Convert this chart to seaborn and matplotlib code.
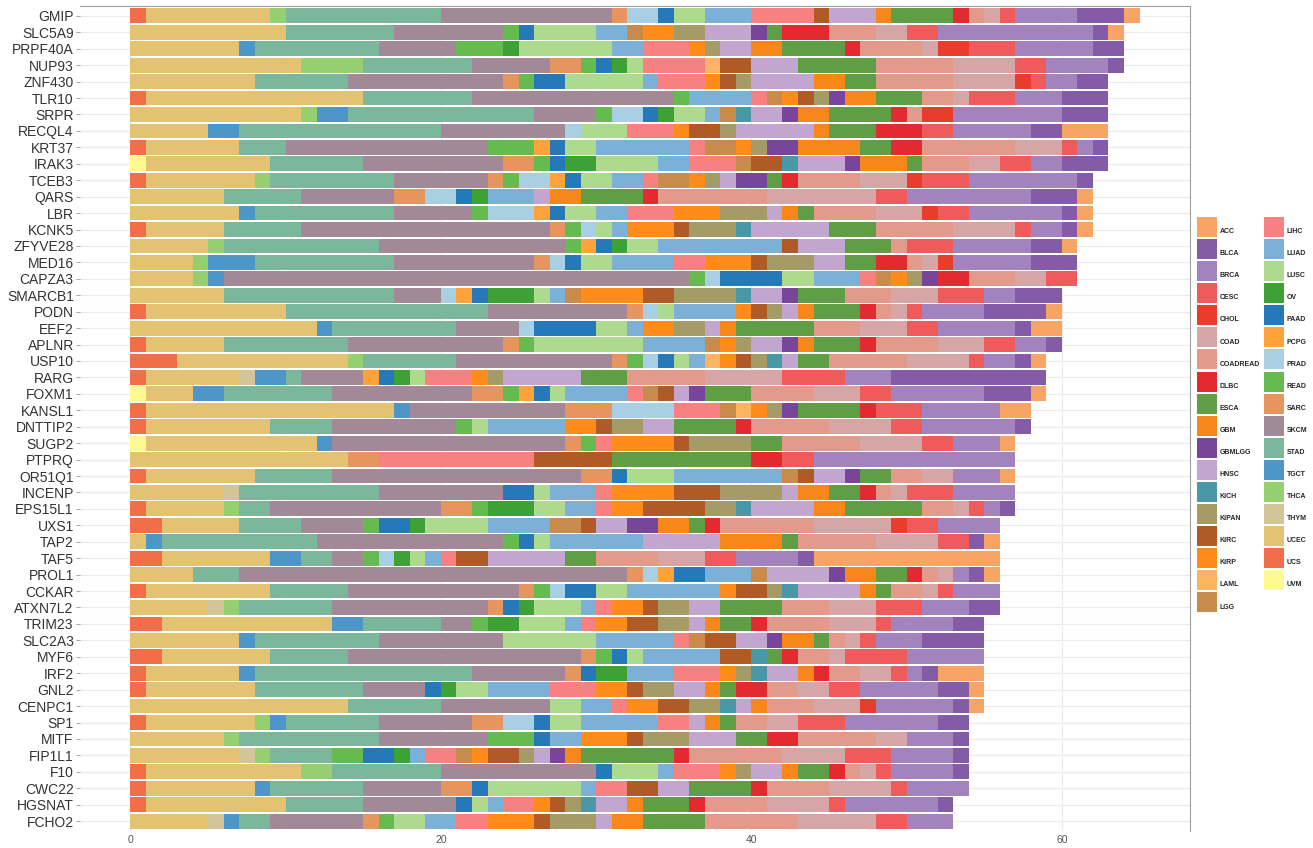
import matplotlib

matplotlib.use("Agg")

import matplotlib.pyplot as plt
import pandas as pd
import seaborn as sns
from matplotlib.lines import Line2D

GENES = [
    "GMIP", "SLC5A9", "PRPF40A", "NUP93", "ZNF430", "TLR10", "SRPR", "RECQL4",
    "KRT37", "IRAK3", "TCEB3", "QARS", "LBR", "KCNK5", "ZFYVE28", "MED16",
    "CAPZA3", "SMARCB1", "PODN", "EEF2", "APLNR", "USP10", "RARG", "FOXM1",
    "KANSL1", "DNTTIP2", "SUGP2", "PTPRQ", "OR51Q1", "INCENP", "EPS15L1", "UXS1",
    "TAP2", "TAF5", "PROL1", "CCKAR", "ATXN7L2", "TRIM23", "SLC2A3", "MYF6",
    "IRF2", "GNL2", "CENPC1", "SP1", "MITF", "FIP1L1", "F10", "CWC22",
    "HGSNAT", "FCHO2",
]

CANCER_TYPES = [
    "ACC", "BLCA", "BRCA", "CESC", "CHOL", "COAD", "COADREAD", "DLBC", "ESCA",
    "GBM", "GBMLGG", "HNSC", "KICH", "KIPAN", "KIRC", "KIRP", "LAML", "LGG",
    "LIHC", "LUAD", "LUSC", "OV", "PAAD", "PCPG", "PRAD", "READ", "SARC",
    "SKCM", "STAD", "TGCT", "THCA", "THYM", "UCEC", "UCS", "UVM",
]

CANCER_COLORS = [
    "#F7A464", "#845BA7", "#A383BE", "#EF5A5A", "#E83C2C", "#D6A5A5", "#E39A8A",
    "#E32A30", "#5F9E45", "#F7861B", "#774599", "#C2A6CF", "#4A97A8", "#A49B67",
    "#B05A28", "#FF8C1A", "#FDB462", "#C98B4C", "#F78181", "#7BB1D6", "#ADDA8D",
    "#3EA135", "#2679B8", "#FFA23A", "#A8CFE4", "#65BA50", "#E6955E", "#A38898",
    "#7BB79B", "#4E96C8", "#95CF70", "#D5C497", "#E3C371", "#F26E4A", "#FFF992",
]

# counts per gene, listed left to right as stacked in the bar
GENE_COUNTS = [
    {"UCS": 1, "UCEC": 8, "THCA": 1, "STAD": 10, "SKCM": 11, "SARC": 1, "PRAD": 2, "PAAD": 1, "LUSC": 2, "LUAD": 3, "LIHC": 4, "KIRC": 1, "HNSC": 3, "GBM": 1, "ESCA": 4, "DLBC": 1, "COADREAD": 1, "COAD": 1, "CESC": 1, "BRCA": 4, "BLCA": 3, "ACC": 1},
    {"UCEC": 10, "STAD": 7, "SKCM": 7, "READ": 1, "PAAD": 1, "LUSC": 4, "LUAD": 2, "LGG": 1, "KIRP": 2, "KIPAN": 2, "HNSC": 3, "GBMLGG": 1, "ESCA": 1, "DLBC": 3, "COADREAD": 3, "COAD": 2, "CESC": 2, "BRCA": 10, "BLCA": 1, "ACC": 1},
    {"UCEC": 7, "TGCT": 1, "STAD": 8, "SKCM": 5, "READ": 3, "OV": 1, "LUSC": 6, "LUAD": 2, "LIHC": 3, "KIRP": 1, "KIPAN": 1, "HNSC": 2, "GBM": 2, "ESCA": 4, "DLBC": 1, "COADREAD": 4, "COAD": 1, "CHOL": 2, "CESC": 3, "BRCA": 5, "BLCA": 2},
    {"UCEC": 11, "THCA": 4, "STAD": 7, "SKCM": 5, "SARC": 2, "READ": 1, "PAAD": 1, "OV": 1, "LUSC": 1, "LIHC": 4, "LAML": 1, "KIRC": 2, "HNSC": 3, "ESCA": 5, "COADREAD": 5, "COAD": 4, "CESC": 2, "BRCA": 4, "BLCA": 1},
    {"UCEC": 8, "STAD": 6, "SKCM": 10, "SARC": 1, "READ": 1, "PAAD": 2, "LUSC": 5, "LUAD": 1, "LIHC": 3, "KIRP": 1, "KIRC": 1, "KIPAN": 1, "HNSC": 4, "GBM": 2, "ESCA": 2, "COADREAD": 5, "COAD": 4, "CHOL": 1, "CESC": 1, "BRCA": 2, "BLCA": 2},
    {"UCS": 1, "UCEC": 14, "STAD": 7, "SKCM": 13, "READ": 1, "LUAD": 4, "LIHC": 1, "LGG": 1, "KIRP": 1, "KIRC": 1, "KIPAN": 1, "GBMLGG": 1, "GBM": 2, "ESCA": 3, "COADREAD": 2, "COAD": 1, "CESC": 3, "BRCA": 3, "BLCA": 3},
    {"UCEC": 11, "THCA": 1, "TGCT": 2, "STAD": 12, "SKCM": 4, "READ": 1, "PRAD": 2, "PAAD": 1, "OV": 1, "LUSC": 2, "LUAD": 1, "LGG": 1, "KICH": 1, "HNSC": 2, "GBMLGG": 1, "GBM": 2, "ESCA": 4, "DLBC": 1, "COADREAD": 1, "CHOL": 2, "BRCA": 7, "BLCA": 3},
    {"UCEC": 5, "TGCT": 2, "STAD": 13, "SKCM": 8, "PRAD": 1, "LUSC": 3, "LIHC": 3, "KIRP": 1, "KIRC": 2, "KIPAN": 1, "HNSC": 5, "GBM": 1, "ESCA": 3, "DLBC": 3, "CESC": 2, "BRCA": 5, "BLCA": 2, "ACC": 3},
    {"UCS": 1, "UCEC": 6, "STAD": 3, "SKCM": 13, "READ": 3, "PCPG": 1, "PAAD": 1, "LUSC": 2, "LUAD": 6, "LIHC": 1, "LGG": 2, "KIRP": 1, "KIPAN": 1, "GBMLGG": 2, "GBM": 4, "ESCA": 2, "DLBC": 2, "COADREAD": 6, "COAD": 3, "CESC": 1, "BRCA": 1, "BLCA": 1},
    {"UVM": 1, "UCEC": 8, "STAD": 6, "SKCM": 9, "SARC": 2, "READ": 1, "PAAD": 1, "OV": 2, "LUSC": 4, "LUAD": 2, "LIHC": 3, "LGG": 1, "KIRC": 2, "KICH": 1, "HNSC": 3, "GBMLGG": 1, "GBM": 3, "ESCA": 1, "COADREAD": 3, "COAD": 2, "CESC": 2, "BRCA": 2, "BLCA": 3},
    {"UCS": 1, "UCEC": 7, "THCA": 1, "STAD": 8, "SKCM": 6, "SARC": 1, "READ": 1, "PRAD": 2, "PCPG": 1, "PAAD": 1, "LUSC": 2, "LUAD": 2, "LIHC": 1, "LGG": 2, "KIRP": 1, "KIPAN": 1, "HNSC": 1, "GBMLGG": 2, "ESCA": 1, "DLBC": 1, "COADREAD": 4, "COAD": 3, "CHOL": 1, "CESC": 3, "BRCA": 7, "BLCA": 1},
    {"UCEC": 6, "STAD": 5, "SKCM": 6, "SARC": 2, "PRAD": 2, "PAAD": 1, "OV": 1, "LUAD": 3, "HNSC": 1, "GBM": 2, "ESCA": 4, "DLBC": 1, "COADREAD": 7, "COAD": 7, "CESC": 2, "BRCA": 8, "BLCA": 3, "ACC": 1},
    {"UCEC": 7, "TGCT": 1, "STAD": 9, "SKCM": 5, "READ": 1, "PRAD": 3, "PCPG": 1, "PAAD": 1, "LUSC": 2, "LUAD": 2, "LIHC": 3, "KIRP": 3, "KIPAN": 3, "HNSC": 1, "GBM": 1, "ESCA": 1, "COADREAD": 4, "COAD": 3, "CHOL": 1, "CESC": 2, "BRCA": 6, "BLCA": 1, "ACC": 1},
    {"UCS": 1, "UCEC": 5, "STAD": 5, "SKCM": 16, "SARC": 1, "READ": 1, "PRAD": 1, "LUSC": 1, "LUAD": 1, "KIRP": 3, "KIRC": 1, "KIPAN": 3, "KICH": 1, "HNSC": 5, "ESCA": 3, "COADREAD": 5, "COAD": 4, "CESC": 1, "BRCA": 2, "BLCA": 1, "ACC": 1},
    {"UCEC": 5, "THCA": 1, "STAD": 10, "SKCM": 12, "READ": 1, "PCPG": 1, "PAAD": 1, "OV": 1, "LUSC": 2, "LUAD": 8, "KIRC": 1, "HNSC": 3, "ESCA": 3, "COADREAD": 1, "CESC": 3, "BRCA": 5, "BLCA": 2, "ACC": 1},
    {"UCEC": 4, "THCA": 1, "TGCT": 3, "STAD": 9, "SKCM": 9, "SARC": 1, "PRAD": 1, "PAAD": 1, "LUSC": 2, "LUAD": 4, "LIHC": 2, "KIRP": 3, "KIRC": 1, "KIPAN": 3, "HNSC": 2, "ESCA": 2, "DLBC": 2, "COADREAD": 1, "COAD": 1, "CHOL": 1, "BRCA": 5, "BLCA": 3},
    {"UCEC": 4, "THCA": 1, "TGCT": 1, "SKCM": 30, "READ": 1, "PRAD": 1, "PAAD": 4, "LUSC": 2, "LUAD": 3, "LIHC": 1, "LGG": 1, "KIRP": 1, "KIPAN": 1, "GBMLGG": 1, "DLBC": 2, "COADREAD": 3, "COAD": 2, "CESC": 2},
    {"UCEC": 6, "STAD": 11, "SKCM": 3, "PRAD": 1, "PCPG": 1, "PAAD": 1, "OV": 3, "LUSC": 1, "LUAD": 1, "LGG": 1, "KIRP": 4, "KIRC": 2, "KIPAN": 4, "KICH": 1, "HNSC": 2, "GBMLGG": 1, "ESCA": 3, "COADREAD": 3, "COAD": 3, "CESC": 3, "BRCA": 2, "BLCA": 3},
    {"UCS": 1, "UCEC": 9, "STAD": 13, "SKCM": 9, "SARC": 1, "PRAD": 1, "LUSC": 1, "LUAD": 4, "KIRP": 1, "KIRC": 1, "KIPAN": 1, "HNSC": 1, "GBM": 1, "ESCA": 3, "DLBC": 1, "COADREAD": 1, "COAD": 1, "CESC": 1, "BRCA": 4, "BLCA": 4, "ACC": 1},
    {"UCEC": 12, "TGCT": 1, "STAD": 8, "SKCM": 4, "PRAD": 1, "PAAD": 4, "LUSC": 2, "LUAD": 1, "KIRP": 2, "KIPAN": 2, "HNSC": 1, "GBM": 1, "ESCA": 5, "COADREAD": 3, "COAD": 3, "CESC": 2, "BRCA": 5, "BLCA": 1, "ACC": 2},
    {"UCS": 1, "UCEC": 5, "STAD": 8, "SKCM": 10, "SARC": 1, "READ": 1, "LUSC": 7, "LUAD": 4, "LGG": 1, "KIRP": 1, "KIPAN": 1, "HNSC": 2, "GBMLGG": 1, "GBM": 1, "ESCA": 3, "DLBC": 1, "COADREAD": 4, "COAD": 3, "CESC": 2, "BRCA": 2, "BLCA": 1},
    {"UCS": 3, "UCEC": 11, "THCA": 1, "STAD": 6, "SKCM": 10, "SARC": 1, "READ": 1, "PRAD": 1, "PAAD": 1, "LUSC": 1, "LUAD": 1, "LAML": 1, "KIRP": 1, "KIRC": 1, "KIPAN": 1, "KICH": 1, "HNSC": 1, "ESCA": 2, "COADREAD": 5, "COAD": 4, "CESC": 1, "BRCA": 2, "BLCA": 1, "ACC": 1},
    {"UCS": 1, "UCEC": 6, "THYM": 1, "TGCT": 2, "STAD": 1, "SKCM": 4, "PCPG": 1, "PAAD": 1, "OV": 1, "LUSC": 1, "LIHC": 3, "KIRP": 1, "KIPAN": 1, "HNSC": 5, "ESCA": 3, "COADREAD": 5, "COAD": 5, "CESC": 4, "BRCA": 3, "BLCA": 10},
    {"UVM": 1, "UCEC": 3, "TGCT": 2, "STAD": 7, "SKCM": 9, "SARC": 2, "READ": 1, "PCPG": 1, "PAAD": 1, "LUSC": 1, "LUAD": 4, "LIHC": 1, "LGG": 1, "KIRC": 1, "HNSC": 1, "GBMLGG": 1, "ESCA": 3, "COADREAD": 4, "COAD": 3, "CESC": 2, "BRCA": 6, "BLCA": 3, "ACC": 1},
    {"UCS": 1, "UCEC": 16, "TGCT": 1, "SKCM": 10, "SARC": 3, "PRAD": 4, "LIHC": 3, "LGG": 1, "LAML": 1, "KIRP": 1, "KIPAN": 1, "GBMLGG": 1, "ESCA": 4, "DLBC": 1, "CESC": 3, "BRCA": 5, "ACC": 2},
    {"UCS": 1, "UCEC": 8, "STAD": 4, "SKCM": 8, "READ": 1, "LUSC": 1, "LUAD": 5, "KIRP": 2, "KIRC": 1, "KIPAN": 2, "HNSC": 2, "ESCA": 4, "DLBC": 1, "COADREAD": 5, "COAD": 4, "CESC": 2, "BRCA": 6, "BLCA": 1},
    {"UVM": 1, "UCEC": 11, "TGCT": 1, "SKCM": 15, "SARC": 1, "READ": 1, "LIHC": 1, "KIRP": 4, "KIRC": 1, "KIPAN": 4, "ESCA": 2, "COADREAD": 5, "COAD": 4, "CESC": 2, "BRCA": 3, "ACC": 1},
    {"UCEC": 14, "SARC": 2, "LIHC": 10, "KIRC": 5, "ESCA": 9, "DLBC": 2, "CESC": 2, "BRCA": 13},
    {"UCS": 1, "UCEC": 7, "STAD": 5, "SKCM": 16, "SARC": 2, "PAAD": 1, "LUSC": 3, "LUAD": 7, "LGG": 1, "KIRC": 1, "HNSC": 2, "GBMLGG": 1, "ESCA": 2, "COADREAD": 2, "COAD": 2, "BRCA": 3, "ACC": 1},
    {"UCEC": 6, "THYM": 1, "STAD": 9, "SKCM": 8, "PAAD": 2, "LUSC": 1, "LUAD": 3, "LIHC": 1, "KIRP": 4, "KIRC": 3, "KIPAN": 4, "HNSC": 1, "GBM": 2, "ESCA": 2, "DLBC": 1, "COADREAD": 1, "COAD": 1, "CESC": 3, "BRCA": 4},
    {"UCS": 1, "UCEC": 5, "THCA": 1, "STAD": 2, "SKCM": 11, "SARC": 2, "READ": 1, "OV": 3, "LUSC": 2, "LUAD": 2, "LIHC": 1, "KIRP": 2, "KIRC": 4, "KIPAN": 2, "KICH": 1, "HNSC": 4, "GBM": 2, "ESCA": 5, "COADREAD": 2, "COAD": 1, "CESC": 1, "BRCA": 1, "BLCA": 1},
    {"UCS": 2, "UCEC": 5, "STAD": 4, "SKCM": 4, "READ": 1, "PAAD": 2, "OV": 1, "LUSC": 4, "LUAD": 4, "LGG": 2, "KIRC": 1, "HNSC": 2, "GBMLGG": 2, "GBM": 2, "ESCA": 1, "DLBC": 1, "COADREAD": 6, "COAD": 5, "CHOL": 1, "CESC": 2, "BRCA": 4},
    {"UCEC": 1, "TGCT": 1, "STAD": 10, "SKCM": 12, "READ": 1, "PAAD": 1, "LUSC": 1, "LUAD": 6, "HNSC": 5, "GBM": 4, "ESCA": 1, "COADREAD": 5, "COAD": 4, "CESC": 2, "BLCA": 1, "ACC": 1},
    {"UCS": 2, "UCEC": 7, "TGCT": 2, "STAD": 2, "SKCM": 2, "READ": 1, "PRAD": 1, "OV": 1, "LUSC": 1, "LUAD": 1, "LIHC": 1, "KIRC": 2, "HNSC": 5, "ESCA": 2, "COADREAD": 4, "COAD": 3, "CESC": 2, "BRCA": 4, "BLCA": 1, "ACC": 12},
    {"UCEC": 4, "STAD": 3, "SKCM": 25, "SARC": 1, "PRAD": 1, "PCPG": 1, "PAAD": 2, "LUAD": 3, "LGG": 1, "HNSC": 4, "GBMLGG": 1, "GBM": 2, "ESCA": 2, "DLBC": 1, "COADREAD": 1, "COAD": 1, "BRCA": 1, "BLCA": 1, "ACC": 1},
    {"UCS": 1, "UCEC": 8, "STAD": 5, "SKCM": 11, "SARC": 1, "READ": 1, "PRAD": 1, "PAAD": 2, "LUSC": 2, "LUAD": 6, "KIRP": 1, "KIRC": 2, "KIPAN": 1, "KICH": 1, "HNSC": 4, "GBM": 1, "ESCA": 1, "COADREAD": 2, "COAD": 1, "CESC": 1, "BRCA": 3},
    {"UCEC": 5, "THYM": 1, "THCA": 1, "STAD": 6, "SKCM": 10, "SARC": 1, "PAAD": 1, "OV": 1, "LUSC": 3, "LUAD": 1, "LIHC": 1, "KIRP": 2, "KIRC": 1, "KIPAN": 2, "HNSC": 2, "ESCA": 4, "COADREAD": 3, "COAD": 3, "CESC": 3, "BRCA": 3, "BLCA": 2},
    {"UCS": 2, "UCEC": 11, "TGCT": 2, "STAD": 5, "SKCM": 2, "READ": 1, "OV": 2, "LUSC": 3, "LUAD": 1, "LIHC": 1, "KIRP": 2, "KIRC": 2, "KIPAN": 2, "HNSC": 1, "GBM": 1, "ESCA": 2, "DLBC": 1, "COADREAD": 4, "COAD": 3, "CESC": 1, "BRCA": 4, "BLCA": 2},
    {"UCEC": 7, "TGCT": 1, "STAD": 8, "SKCM": 8, "LUSC": 6, "LUAD": 5, "LIHC": 1, "LGG": 1, "KIRC": 2, "HNSC": 2, "GBMLGG": 1, "GBM": 2, "ESCA": 1, "COADREAD": 1, "COAD": 1, "CESC": 1, "BRCA": 3, "BLCA": 4},
    {"UCS": 2, "UCEC": 7, "STAD": 5, "SKCM": 15, "SARC": 1, "READ": 1, "PAAD": 1, "LUSC": 1, "LUAD": 5, "KIRC": 2, "KICH": 1, "ESCA": 1, "DLBC": 1, "COADREAD": 2, "COAD": 1, "CESC": 4, "BRCA": 5},
    {"UCS": 1, "UCEC": 6, "TGCT": 1, "STAD": 14, "SKCM": 6, "SARC": 1, "PAAD": 1, "OV": 2, "LUAD": 3, "LIHC": 3, "KIRP": 1, "KIPAN": 1, "KICH": 1, "HNSC": 2, "GBM": 1, "DLBC": 1, "COADREAD": 2, "COAD": 2, "CESC": 1, "BRCA": 1, "BLCA": 1, "ACC": 3},
    {"UCS": 1, "UCEC": 7, "STAD": 7, "SKCM": 4, "PAAD": 1, "OV": 1, "LUSC": 2, "LUAD": 4, "LIHC": 3, "KIRP": 2, "KIRC": 1, "KIPAN": 2, "HNSC": 2, "GBM": 1, "ESCA": 1, "DLBC": 2, "COADREAD": 2, "COAD": 2, "CESC": 2, "BRCA": 5, "BLCA": 2, "ACC": 1},
    {"UCEC": 14, "STAD": 6, "SKCM": 7, "LUSC": 2, "LUAD": 2, "LIHC": 1, "KIRP": 2, "KIRC": 2, "KIPAN": 2, "KICH": 1, "HNSC": 1, "GBM": 1, "COADREAD": 3, "COAD": 3, "CHOL": 1, "BRCA": 5, "BLCA": 1, "ACC": 1},
    {"UCS": 1, "UCEC": 7, "THCA": 1, "TGCT": 1, "STAD": 6, "SKCM": 6, "SARC": 2, "PRAD": 2, "PAAD": 1, "LUSC": 2, "LUAD": 5, "LIHC": 2, "HNSC": 1, "GBM": 1, "ESCA": 1, "COADREAD": 2, "COAD": 2, "CESC": 3, "BRCA": 6, "BLCA": 2},
    {"UCEC": 6, "THCA": 1, "STAD": 9, "SKCM": 7, "READ": 3, "PAAD": 1, "LUAD": 2, "KIRP": 3, "KIRC": 1, "KIPAN": 3, "HNSC": 3, "ESCA": 2, "DLBC": 2, "COADREAD": 5, "COAD": 2, "BRCA": 3, "BLCA": 1},
    {"UCEC": 7, "THYM": 1, "THCA": 1, "STAD": 4, "READ": 2, "PAAD": 2, "OV": 1, "LUAD": 1, "LIHC": 2, "LGG": 1, "KIRP": 1, "KIRC": 2, "KIPAN": 1, "HNSC": 1, "GBMLGG": 1, "GBM": 1, "ESCA": 6, "DLBC": 1, "COADREAD": 6, "COAD": 4, "CESC": 3, "BRCA": 4, "BLCA": 1},
    {"UCS": 1, "UCEC": 10, "THCA": 2, "STAD": 7, "SKCM": 10, "PAAD": 1, "LUSC": 3, "LUAD": 1, "LIHC": 3, "KIRP": 1, "KIPAN": 1, "HNSC": 2, "GBM": 1, "ESCA": 2, "DLBC": 1, "COADREAD": 1, "COAD": 1, "CESC": 1, "BRCA": 4, "BLCA": 1},
    {"UCS": 1, "UCEC": 7, "TGCT": 1, "STAD": 6, "SKCM": 5, "SARC": 2, "PAAD": 1, "LUSC": 6, "LUAD": 1, "LIHC": 2, "KIRC": 2, "HNSC": 2, "ESCA": 4, "DLBC": 1, "COADREAD": 4, "COAD": 4, "CESC": 1, "BRCA": 4},
    {"UCS": 1, "UCEC": 9, "STAD": 5, "SKCM": 6, "PAAD": 1, "LUSC": 1, "LUAD": 1, "LIHC": 2, "KIRP": 1, "KIRC": 1, "KIPAN": 1, "KICH": 1, "HNSC": 2, "GBM": 1, "ESCA": 3, "DLBC": 1, "COADREAD": 4, "COAD": 4, "CESC": 1, "BRCA": 6, "BLCA": 1},
    {"UCEC": 5, "THYM": 1, "TGCT": 1, "STAD": 2, "SKCM": 6, "SARC": 1, "READ": 1, "LUSC": 2, "LUAD": 2, "LIHC": 2, "KIRP": 3, "KIRC": 1, "KIPAN": 3, "HNSC": 1, "GBM": 2, "ESCA": 4, "COADREAD": 6, "COAD": 5, "CESC": 2, "BRCA": 3},
]

FIG_W, FIG_H = 1313, 848


def build_frame() -> pd.DataFrame:
    rows = []
    for gene, counts in zip(GENES, GENE_COUNTS):
        for cancer, n in counts.items():
            rows.append({"gene": gene, "cancer": cancer, "count": n})
    return pd.DataFrame(rows)


def draw(df: pd.DataFrame) -> None:
    sns.set_theme(style="white")
    plt.rcParams["font.family"] = ["Liberation Sans", "DejaVu Sans"]

    fig = plt.figure(figsize=(FIG_W / 100, FIG_H / 100), dpi=100)
    ax = fig.add_axes([80 / FIG_W, 1 - 831 / FIG_H, 1110 / FIG_W, 825 / FIG_H])

    sns.histplot(
        data=df,
        y="gene",
        hue="cancer",
        weights="count",
        multiple="stack",
        discrete=True,
        shrink=0.9,
        hue_order=CANCER_TYPES,
        palette=CANCER_COLORS,
        alpha=1,
        linewidth=0,
        legend=False,
        ax=ax,
    )

    ax.set_xlim(-3.25, 68.25)
    ax.set_ylim(len(GENES) - 0.4, -0.6)
    ax.set_xticks([0, 20, 40, 60])
    ax.set_xticks([10, 30, 50], minor=True)
    ax.set_yticks(range(len(GENES)))
    ax.set_yticklabels(GENES)
    ax.set_xlabel("")
    ax.set_ylabel("")

    ax.set_axisbelow(True)
    ax.grid(axis="x", which="major", color="#EBEBEB", linewidth=0.9)
    ax.grid(axis="x", which="minor", color="#F4F4F4", linewidth=0.6)
    ax.grid(axis="y", which="major", color="#EBEBEB", linewidth=0.9)

    ax.tick_params(axis="y", left=True, length=3, width=0.6, color="#999999",
                   pad=1.5, labelsize=10, labelcolor="#333333")
    ax.tick_params(axis="x", which="both", bottom=False, length=0, pad=3,
                   labelsize=7.5, labelcolor="#555555")

    for side in ["left", "bottom"]:
        ax.spines[side].set_visible(False)
    for side in ["top", "right"]:
        ax.spines[side].set_visible(True)
        ax.spines[side].set_color("#A0A0A0")
        ax.spines[side].set_linewidth(0.8)

    # square keys, about 21 px, stacked almost touching
    handles = [
        Line2D([], [], linestyle="none", marker="s", markersize=15,
               markerfacecolor=c, markeredgewidth=0, label=t)
        for t, c in zip(CANCER_TYPES, CANCER_COLORS)
    ]
    fig.legend(
        handles=handles,
        loc="center left",
        bbox_to_anchor=(1197 / FIG_W, 1 - 419 / FIG_H),
        ncol=2,
        frameon=False,
        prop={"size": 5, "weight": "bold"},
        handlelength=3.0,
        handleheight=4.24,
        labelspacing=0.18,
        handletextpad=0.3,
        columnspacing=0.5,
        borderpad=0,
        borderaxespad=0,
    )

    fig.savefig("out.png", dpi=100, facecolor="white")


def main() -> None:
    df = build_frame()
    draw(df)


if __name__ == "__main__":
    main()
